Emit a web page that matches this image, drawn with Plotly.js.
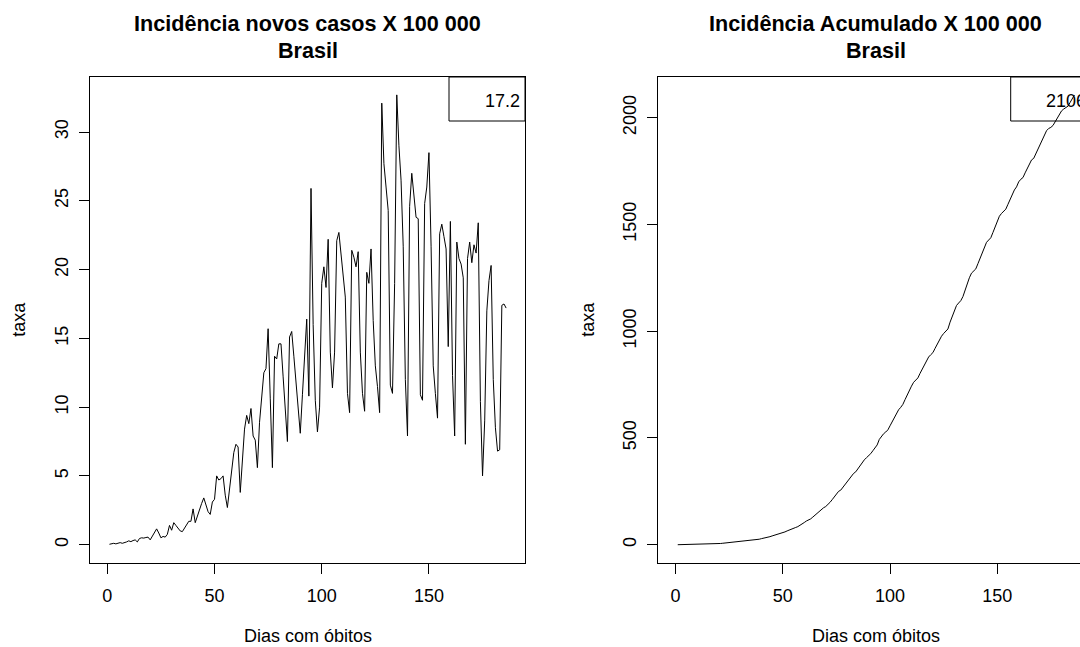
<!DOCTYPE html>
<html>
<head>
<meta charset="utf-8">
<script src="https://cdn.plot.ly/plotly-3.0.1.min.js"></script>
<style>
html,body{margin:0;padding:0;overflow:hidden;background:#ffffff;}
</style>
</head>
<body>
<div id="chart" style="width:1100px;height:647px;"></div>
<script>
// ---------- DATA ----------
const dailyRate = [
  0.03, 0.05, 0.1, 0.06, 0.12, 0.15, 0.1, 0.18, 0.2, 0.28,
  0.22, 0.3, 0.35, 0.2, 0.45, 0.5, 0.48, 0.52, 0.55, 0.35,
  0.65, 0.95, 1.15, 0.85, 0.5, 0.6, 0.55, 0.75, 1.4, 1.05,
  1.6, 1.4, 1.15, 1.0, 0.95, 1.2, 1.4, 1.7, 1.7, 2.6,
  1.6, 2.1, 2.6, 3.0, 3.4, 2.9, 2.4, 2.2, 3.1, 3.3,
  5.0, 4.7, 4.8, 5.0, 3.6, 2.7, 4.0, 5.2, 6.7, 7.3,
  7.1, 3.8, 6.3, 8.4, 9.4, 8.8, 9.9, 7.9, 7.6, 5.6,
  8.9, 10.7, 12.5, 12.8, 15.7, 10.6, 5.6, 13.7, 13.5, 14.6,
  14.6, 12.2, 9.8, 7.5, 15.1, 15.5, 13.7, 11.8, 10.0, 8.1,
  10.9, 13.7, 16.4, 10.8, 25.9, 16.0, 10.5, 8.2, 10.0, 19.0,
  20.2, 18.7, 22.2, 14.0, 11.4, 14.0, 22.1, 22.7, 21.0, 19.5,
  18.0, 11.0, 9.6, 21.4, 20.9, 20.2, 21.3, 14.0, 11.0, 9.7,
  19.8, 19.0, 21.5, 16.3, 13.0, 11.5, 9.6, 32.1, 27.7, 26.0,
  24.3, 11.6, 11.0, 19.0, 32.7, 29.0, 26.5, 21.7, 12.0, 7.9,
  24.6, 27.0, 25.3, 23.8, 23.7, 10.9, 10.5, 24.8, 26.0, 28.5,
  21.7, 13.0, 11.0, 9.2, 22.6, 23.3, 22.4, 21.5, 14.4, 23.5,
  12.3, 7.9, 22.0, 20.8, 20.4, 19.4, 7.3, 20.8, 22.0, 20.5,
  21.8, 21.2, 23.4, 10.4, 5.0, 9.0, 17.0, 19.2, 20.3, 12.0,
  8.5, 6.8, 6.9, 17.4, 17.5, 17.2
];

const cumulativeRate = [
  0.0, 0.1, 0.2, 0.2, 0.4, 0.5, 0.6, 0.8, 1.0, 1.3,
  1.5, 1.8, 2.1, 2.3, 2.8, 3.3, 3.8, 4.3, 4.8, 5.2,
  5.8, 6.8, 7.9, 8.8, 9.3, 9.9, 10.4, 11.2, 12.6, 13.6,
  15.2, 16.6, 17.8, 18.8, 19.7, 20.9, 22.3, 24.0, 25.7, 28.3,
  29.9, 32.0, 34.6, 37.6, 41.0, 43.9, 46.3, 48.5, 51.6, 54.9,
  59.9, 64.6, 69.4, 74.4, 78.0, 80.7, 84.7, 89.9, 96.6, 103.9,
  111.0, 114.8, 121.1, 129.5, 138.9, 147.7, 157.6, 165.5, 173.1, 178.7,
  187.6, 198.3, 210.8, 223.6, 239.3, 249.9, 255.5, 269.2, 282.7, 297.3,
  311.9, 324.1, 333.9, 341.4, 356.5, 372.0, 385.7, 397.5, 407.5, 415.6,
  426.5, 440.2, 456.6, 467.4, 493.3, 509.3, 519.8, 528.0, 538.0, 557.0,
  577.2, 595.9, 618.1, 632.1, 643.5, 657.5, 679.6, 702.3, 723.3, 742.8,
  760.8, 771.8, 781.4, 802.8, 823.7, 843.9, 865.2, 879.2, 890.2, 899.9,
  919.7, 938.7, 960.2, 976.5, 989.5, 1001.0, 1010.6, 1042.7, 1070.4, 1096.4,
  1120.7, 1132.3, 1143.3, 1162.3, 1195.0, 1224.0, 1250.5, 1272.2, 1284.2, 1292.1,
  1316.7, 1343.7, 1369.0, 1392.8, 1416.5, 1427.4, 1437.9, 1462.7, 1488.7, 1517.2,
  1538.9, 1551.9, 1562.9, 1572.1, 1594.7, 1618.0, 1640.4, 1661.9, 1676.3, 1699.8,
  1712.1, 1720.0, 1742.0, 1762.8, 1783.2, 1802.6, 1809.9, 1830.7, 1852.7, 1873.2,
  1895.0, 1916.2, 1939.6, 1950.0, 1955.0, 1964.0, 1981.0, 2000.2, 2020.5, 2032.5,
  2041.0, 2047.8, 2054.7, 2072.1, 2089.6, 2106.8
];

const xTickVals = [0, 50, 100, 150];
const yTickValsLeft = [0, 5, 10, 15, 20, 25, 30];
const yTickValsRight = [0, 500, 1000, 1500, 2000];

const titleLeft = ["Incidência novos casos X 100 000", "Brasil"];
const titleRight = ["Incidência Acumulado X 100 000", "Brasil"];
const xLabel = "Dias com óbitos";
const yLabel = "taxa";
const legendLeft = "17.2";
const legendRight = "2106";

// day index 1..n
const days = dailyRate.map((_, i) => i + 1);

// ---------- LAYOUT ----------
const W = 1100, H = 647;
const FONT = "Liberation Sans, Arial, Helvetica, sans-serif";
const px = v => v / W;
const py = v => 1 - v / H;

const boxTop = 77, boxBottom = 562.7;
const leftL = 90, leftR = 525;
const rightL = 658.3, rightR = 1093.3;

const axisBase = {
  showgrid: false, zeroline: false, showline: true, mirror: true,
  linecolor: "#000", linewidth: 1,
  ticks: "outside", ticklen: 10, tickwidth: 1, tickcolor: "#000",
  tickfont: {family: FONT, size: 18, color: "#000"},
  fixedrange: true
};

const lineStyle = {color: "#000", width: 1};

const traces = [
  {x: days, y: dailyRate, type: "scatter", mode: "lines", line: lineStyle,
   xaxis: "x", yaxis: "y", hoverinfo: "skip", showlegend: false},
  {x: days, y: cumulativeRate, type: "scatter", mode: "lines", line: lineStyle,
   xaxis: "x2", yaxis: "y2", hoverinfo: "skip", showlegend: false}
];

function ann(text, x, y, opts) {
  return Object.assign({
    text: text, x: px(x), y: py(y), xref: "paper", yref: "paper",
    showarrow: false, xanchor: "center", yanchor: "middle",
    font: {family: FONT, size: 18, color: "#000"}
  }, opts || {});
}

const titleFont = {family: FONT, size: 21.6, color: "#000"};
const leftC = (leftL + leftR) / 2, rightC = (rightL + rightR) / 2;

const annotations = [
  ann("<b>" + titleLeft[0] + "</b>", leftC, 23.5, {font: titleFont}),
  ann("<b>" + titleLeft[1] + "</b>", leftC, 50.5, {font: titleFont}),
  ann("<b>" + titleRight[0] + "</b>", rightC, 23.5, {font: titleFont}),
  ann("<b>" + titleRight[1] + "</b>", rightC, 50.5, {font: titleFont}),
  ann(xLabel, leftC, 636),
  ann(xLabel, rightC, 636),
  ann(yLabel, 19, (boxTop + boxBottom) / 2, {textangle: -90}),
  ann(yLabel, 588, (boxTop + boxBottom) / 2, {textangle: -90}),
  ann(legendLeft, 483, 101, {xanchor: "left"}),
  ann(legendRight, 1044, 101, {xanchor: "left"})
];

const shapes = [
  {type: "rect", xref: "paper", yref: "paper", x0: px(449), x1: px(leftR), y0: py(121), y1: py(boxTop),
   line: {color: "#000", width: 1}, fillcolor: "rgba(0,0,0,0)", layer: "below"},
  {type: "rect", xref: "paper", yref: "paper", x0: px(1010.7), x1: px(rightR), y0: py(121), y1: py(boxTop),
   line: {color: "#000", width: 1}, fillcolor: "rgba(0,0,0,0)", layer: "below"}
];

const layout = {
  width: W, height: H,
  margin: {l: 0, r: 0, t: 0, b: 0, pad: 0},
  paper_bgcolor: "#fff", plot_bgcolor: "#fff",
  showlegend: false,
  font: {family: FONT, size: 18, color: "#000"},
  xaxis: Object.assign({}, axisBase, {domain: [px(leftL), px(leftR)], range: [-8.07, 194.8],
    tickvals: xTickVals, anchor: "y", ticklabelstandoff: 7}),
  yaxis: Object.assign({}, axisBase, {domain: [py(boxBottom), py(boxTop)], range: [-1.31, 34.0],
    tickvals: yTickValsLeft, tickangle: -90, anchor: "x", ticklabelstandoff: 4}),
  xaxis2: Object.assign({}, axisBase, {domain: [px(rightL), px(rightR)], range: [-8.07, 194.8],
    tickvals: xTickVals, anchor: "y2", ticklabelstandoff: 7}),
  yaxis2: Object.assign({}, axisBase, {domain: [py(boxBottom), py(boxTop)], range: [-84.3, 2191.1],
    tickvals: yTickValsRight, tickangle: -90, anchor: "x2", ticklabelstandoff: 4}),
  annotations: annotations,
  shapes: shapes
};

Plotly.newPlot("chart", traces, layout, {displayModeBar: false, staticPlot: true});
</script>
</body>
</html>
